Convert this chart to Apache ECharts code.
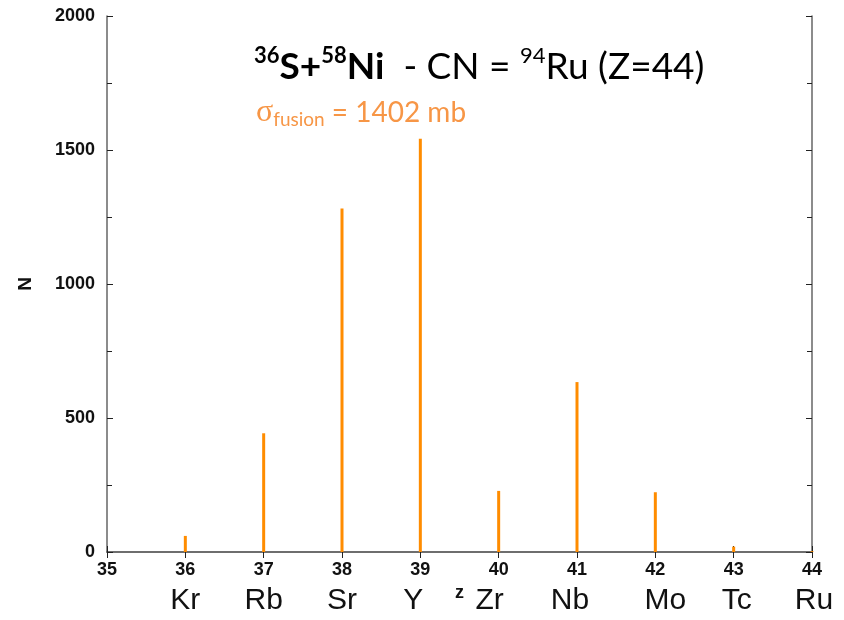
<!DOCTYPE html>
<html>
<head>
<meta charset="utf-8">
<script src="https://cdn.jsdelivr.net/npm/echarts@6/dist/echarts.min.js"></script>
<style>
html, body { margin: 0; background: #fff; }
#chart { width: 844px; height: 620px; }
</style>
</head>
<body>
<div id="chart"></div>
<script>
// Z of the fragment and number of events
const zValues = [36, 37, 38, 39, 40, 41, 42, 43, 44];
const counts = [60, 443, 1282, 1542, 228, 634, 223, 20, 3];
// element names under the Z axis
const elementZ = [36, 37, 38, 39, 40, 41, 42, 43, 44];
const elementNames = ['Kr', 'Rb', 'Sr', 'Y', 'Zr', 'Nb', 'Mo', 'Tc', 'Ru'];

// small horizontal nudges of the element names (px)
const nameNudge = { 39: -7, 40: -9, 41: -7, 42: 10, 43: 3, 44: 2 };

const chart = echarts.init(document.getElementById('chart'));

const axisColor = '#666';
const tickFont = { fontFamily: 'Liberation Sans', fontWeight: 'bold', fontSize: 18, color: '#111' };

const nameRich = {};
elementZ.forEach(z => {
  const d = nameNudge[z] || 0;
  nameRich['n' + z] = {
    fontFamily: 'Liberation Sans', fontSize: 30, color: '#111',
    padding: [0, d < 0 ? -2 * d : 0, 0, d > 0 ? 2 * d : 0]
  };
});

chart.setOption({
  animation: false,
  title: [
    {
      left: 249,
      top: 40,
      text: '{bs|36}{b|S+}{bs|58}{b|Ni}{n|  - CN = }{ns|94}{n|Ru (Z=44)}',
      textStyle: {
        fontWeight: 'normal',
        rich: {
          b: { fontFamily: 'Lato', fontWeight: 'bold', fontSize: 37, lineHeight: 44, color: '#000' },
          bs: { fontFamily: 'Lato', fontWeight: 'bold', fontSize: 22, lineHeight: 22, verticalAlign: 'top', color: '#000' },
          n: { fontFamily: 'Lato', fontWeight: 'normal', fontSize: 37, lineHeight: 44, color: '#000' },
          ns: { fontFamily: 'Lato', fontWeight: 'normal', fontSize: 22, lineHeight: 22, verticalAlign: 'top', color: '#000' }
        }
      }
    },
    {
      left: 251,
      top: 92,
      text: '{s|σ}{sub|fusion}{t| = 1402 mb}',
      textStyle: {
        fontWeight: 'normal',
        rich: {
          s: { fontFamily: 'Liberation Serif', fontWeight: 'normal', fontSize: 32, lineHeight: 32, color: '#F79646' },
          sub: { fontFamily: 'Lato', fontWeight: 'normal', fontSize: 19, lineHeight: 18, verticalAlign: 'bottom', color: '#F79646' },
          t: { fontFamily: 'Lato', fontWeight: 'normal', fontSize: 28, lineHeight: 32, color: '#F79646' }
        }
      }
    }
  ],
  grid: { left: 107, right: 32, top: 16, bottom: 68 },
  xAxis: [
    {
      type: 'value', position: 'bottom', min: 35, max: 44, interval: 1,
      name: 'z', nameLocation: 'middle', nameGap: 32,
      nameTextStyle: { fontFamily: 'Liberation Sans', fontWeight: 'bold', fontSize: 18, color: '#111' },
      axisLine: { lineStyle: { color: axisColor, width: 1.5 } },
      axisTick: { inside: true, length: 6, lineStyle: { color: '#222' } },
      axisLabel: Object.assign({ margin: 9 }, tickFont),
      splitLine: { show: false }
    },
    {
      type: 'value', position: 'top', min: 35, max: 44, interval: 1,
      axisLine: { lineStyle: { color: axisColor, width: 1.5 } },
      axisTick: { inside: true, length: 6, lineStyle: { color: '#222' } },
      axisLabel: { show: false },
      splitLine: { show: false }
    },
    {
      type: 'value', position: 'bottom', min: 35, max: 44, interval: 1,
      axisLine: { show: false },
      axisTick: { show: false },
      axisLabel: {
        margin: 34,
        showMinLabel: true, showMaxLabel: true,
        formatter: v => {
          const i = elementZ.indexOf(v);
          return i < 0 ? '' : '{n' + v + '|' + elementNames[i] + '}';
        },
        rich: nameRich
      },
      splitLine: { show: false }
    }
  ],
  yAxis: [
    {
      type: 'value', position: 'left', min: 0, max: 2000, interval: 500,
      name: 'N', nameLocation: 'middle', nameGap: 72,
      nameTextStyle: { fontFamily: 'Liberation Sans', fontWeight: 'bold', fontSize: 19, color: '#111' },
      axisLine: { show: true, lineStyle: { color: axisColor, width: 1.5 } },
      axisTick: { show: true, inside: true, length: 6, lineStyle: { color: '#222' } },
      minorTick: { show: true, splitNumber: 2, length: 5, lineStyle: { color: '#222' } },
      axisLabel: Object.assign({ margin: 12, formatter: v => String(v) }, tickFont),
      splitLine: { show: false }
    },
    {
      type: 'value', position: 'right', min: 0, max: 2000, interval: 500,
      axisLine: { show: true, lineStyle: { color: axisColor, width: 1.5 } },
      axisTick: { show: true, inside: true, length: 6, lineStyle: { color: '#222' } },
      minorTick: { show: true, splitNumber: 2, length: 5, lineStyle: { color: '#222' } },
      axisLabel: { show: false },
      splitLine: { show: false }
    }
  ],
  series: [
    {
      type: 'bar',
      xAxisIndex: 0,
      yAxisIndex: 0,
      barWidth: 3,
      itemStyle: { color: '#FF8C00' },
      data: zValues.map((z, i) => [z, counts[i]])
    }
  ]
});
</script>
</body>
</html>
